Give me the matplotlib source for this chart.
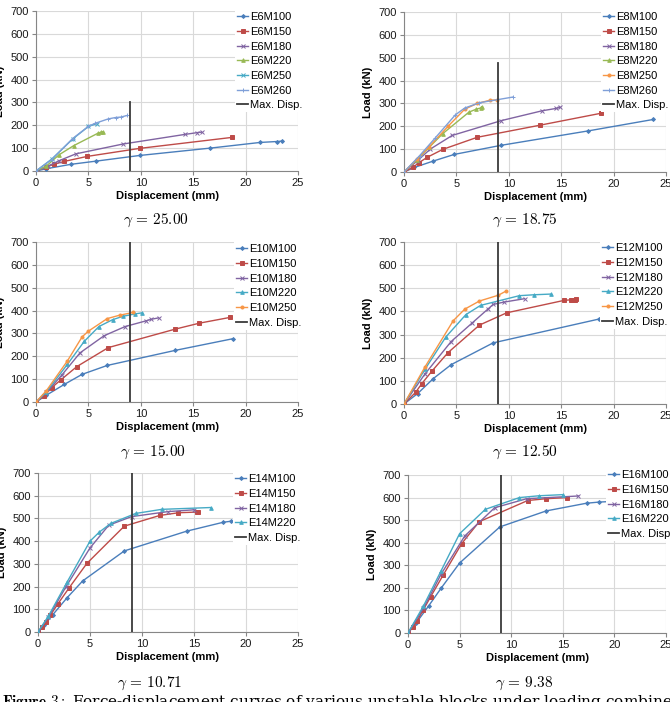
import matplotlib
matplotlib.use("Agg")
import matplotlib.pyplot as plt

# ---- data (displacement mm, load kN) ----------------------------------------
# gamma = 25.00
p1_names = ["E6M100", "E6M150", "E6M180", "E6M220", "E6M250", "E6M260"]
p1_x = [[0, 1.0, 3.3, 5.7, 9.9, 16.6, 21.4, 23.0, 23.5],
        [0, 1.0, 1.7, 2.7, 4.9, 9.9, 18.7],
        [0, 1.1, 2.2, 3.8, 8.3, 14.2, 15.4, 15.8],
        [0, 1.0, 2.2, 3.6, 5.9, 6.2, 6.4],
        [0, 1.5, 3.5, 5.0, 5.8],
        [0, 1.5, 3.5, 5.0, 5.6, 6.9, 7.6, 8.1, 8.7]]
p1_y = [[0, 10, 29, 43, 68, 100, 125, 129, 131],
        [0, 18, 29, 42, 64, 99, 147],
        [0, 20, 45, 75, 118, 160, 168, 170],
        [0, 22, 71, 111, 165, 170, 172],
        [0, 52, 140, 195, 207],
        [0, 50, 142, 195, 208, 228, 234, 236, 243]]

# gamma = 18.75
p2_names = ["E8M100", "E8M150", "E8M180", "E8M220", "E8M250", "E8M260"]
p2_x = [[0, 1.0, 2.8, 4.8, 9.3, 17.6, 23.8],
        [0, 0.9, 1.4, 2.2, 3.7, 7.0, 13.0, 18.8],
        [0, 1.3, 2.5, 4.6, 9.3, 13.2, 14.5, 14.9],
        [0, 1.2, 2.4, 3.7, 6.2, 6.9, 7.3, 7.4],
        [0, 1.2, 2.4, 4.2, 5.8, 7.0, 8.2, 8.9],
        [0, 1.5, 3.0, 4.9, 5.8, 7.2, 10.4]]
p2_y = [[0, 20, 48, 77, 117, 180, 230],
        [0, 22, 40, 64, 99, 152, 205, 257],
        [0, 50, 100, 160, 225, 268, 278, 283],
        [0, 52, 108, 168, 262, 275, 280, 285],
        [0, 55, 110, 200, 275, 300, 314, 315],
        [0, 72, 150, 250, 280, 303, 328]]

# gamma = 15.00
p3_names = ["E10M100", "E10M150", "E10M180", "E10M220", "E10M250"]
p3_x = [[0, 1.0, 2.7, 4.4, 6.8, 13.3, 18.8],
        [0, 0.8, 1.5, 2.4, 3.9, 6.9, 13.3, 15.6, 18.5],
        [0, 1.0, 2.5, 4.2, 6.5, 8.5, 10.5, 11.0, 11.7],
        [0, 1.0, 3.0, 4.6, 6.0, 7.3, 8.3, 9.4, 10.1],
        [0, 1.0, 3.0, 4.4, 5.0, 6.8, 8.0, 9.3]]
p3_y = [[0, 30, 77, 121, 160, 226, 277],
        [0, 28, 63, 98, 155, 238, 319, 345, 370],
        [0, 42, 120, 215, 290, 330, 355, 362, 368],
        [0, 45, 165, 265, 330, 360, 375, 385, 390],
        [0, 50, 180, 285, 310, 365, 380, 392]]

# gamma = 12.50
p4_names = ["E12M100", "E12M150", "E12M180", "E12M220", "E12M250"]
p4_x = [[0, 1.3, 2.8, 4.5, 8.5, 18.6],
        [0, 1.1, 1.7, 2.7, 4.2, 7.2, 9.8, 15.3, 15.9, 16.3, 16.4],
        [0, 2.0, 4.5, 6.5, 8.0, 8.5, 9.5, 11.5],
        [0, 2.0, 4.0, 5.9, 7.3, 11.0, 12.4, 14.0],
        [0, 2.0, 4.7, 5.8, 7.2, 9.0, 9.7]]
p4_y = [[0, 45, 110, 170, 264, 367],
        [0, 50, 88, 144, 222, 341, 394, 448, 450, 451, 452],
        [0, 130, 270, 350, 410, 430, 440, 455],
        [0, 150, 290, 386, 426, 468, 472, 475],
        [0, 160, 360, 410, 445, 470, 487]]

# gamma = 10.71
p5_names = ["E14M100", "E14M150", "E14M180", "E14M220"]
p5_x = [[0, 0.6, 1.4, 2.8, 4.3, 8.3, 14.3, 17.8, 18.6],
        [0, 0.4, 0.8, 1.2, 1.9, 3.0, 4.7, 8.3, 11.7, 13.5, 15.3, 15.4],
        [0, 1.0, 2.7, 5.0, 6.8, 9.0, 12.5, 15.0],
        [0, 1.0, 2.8, 5.0, 5.9, 7.0, 9.4, 11.9, 16.6]]
p5_y = [[0, 30, 75, 151, 225, 357, 444, 483, 488],
        [0, 20, 45, 75, 123, 195, 302, 466, 513, 525, 528, 530],
        [0, 65, 200, 370, 470, 508, 530, 538],
        [0, 70, 220, 400, 440, 478, 522, 540, 548]]

# gamma = 9.38
p6_names = ["E16M100", "E16M150", "E16M180", "E16M220"]
p6_x = [[0, 0.8, 2.0, 3.2, 5.0, 8.9, 13.4, 17.3, 18.5, 19.4],
        [0, 0.5, 0.9, 1.45, 2.2, 3.4, 5.2, 6.9, 11.6, 13.4, 15.4],
        [0, 1.5, 3.2, 5.5, 8.4, 11.5, 16.5],
        [0, 1.5, 3.2, 5.0, 7.5, 10.8, 12.7, 15.0]]
p6_y = [[0, 45, 120, 198, 310, 470, 541, 575, 580, 582],
        [0, 28, 55, 100, 161, 256, 396, 493, 587, 595, 600],
        [0, 110, 260, 430, 555, 595, 607],
        [0, 120, 275, 440, 548, 600, 608, 613]]

gammas = ["25.00", "18.75", "15.00", "12.50", "10.71", "9.38"]
max_disp_x = 9.0
max_disp_top = [300, 478, 700, 700, 700, 700]

# ---- styling -----------------------------------------------------------------
BLUE, RED, PURPLE = "#4a7ebb", "#be4b48", "#8064a2"
GREEN, TEAL, ORANGE, LBLUE = "#98b954", "#46aac5", "#f79646", "#7f9fd8"
STYLE = {"100": (BLUE, "D", 2.0), "150": (RED, "s", 2.6), "180": (PURPLE, "x", 3.0),
         "250": (TEAL, "x", 3.0), "260": (LBLUE, "+", 3.5)}

W, H = 670, 702
plt.rcParams["font.family"] = ["Liberation Sans", "DejaVu Sans"]
plt.rcParams["mathtext.fontset"] = "cm"
fig = plt.figure(figsize=(W / 100, H / 100), dpi=100)

# pixel boxes: x at 0, x at 25, y at 700, y at 0 ; legend anchor ; caption centre
panels = [
    ((36, 298, 11, 171), (235, 10), (156, 220), p1_names, p1_x, p1_y),
    ((404, 666, 12, 172), (601, 10), (525, 220), p2_names, p2_x, p2_y),
    ((36, 298, 242, 402), (234, 242), (153, 452), p3_names, p3_x, p3_y),
    ((404, 666, 242, 404), (600, 241), (525, 452), p4_names, p4_x, p4_y),
    ((38, 298, 473, 632), (233, 472), (150, 683), p5_names, p5_x, p5_y),
    ((408, 666, 475, 633), (606, 468), (524, 683), p6_names, p6_x, p6_y),
]

for i, (box, leg, cap, names, xs, ys) in enumerate(panels):
    x0, x25, y7, y0 = box
    ax = fig.add_axes([x0 / W, 1 - y0 / H, (x25 - x0) / W, (y0 - y7) / H])
    handles = []
    for name, x, y in zip(names, xs, ys):
        key = name[-3:]
        if key == "220":
            st = (GREEN, "^", 2.6) if i < 2 else (TEAL, "^", 2.6)
        elif key == "250" and i > 0:
            st = (ORANGE, "o", 2.2)
        else:
            st = STYLE[key]
        c, m, ms = st
        h, = ax.plot(x, y, "-", color=c, lw=1.0, marker=m, ms=ms, mew=0.7,
                     label=name, zorder=3)
        handles.append(h)
    h, = ax.plot([max_disp_x, max_disp_x], [0, max_disp_top[i]], "-",
                 color="#3a3a3a", lw=1.3, label="Max. Disp.", zorder=4)
    handles.append(h)

    ax.set_xlim(0, 25); ax.set_ylim(0, 700)
    ax.set_xticks(range(0, 26, 5)); ax.set_yticks(range(0, 701, 100))
    ax.grid(color="#d9d9d9", lw=0.8, zorder=0)
    ax.set_axisbelow(True)
    for s in ("top", "right"):
        ax.spines[s].set_visible(False)
    for s in ("left", "bottom"):
        ax.spines[s].set_color("#868686")
    ax.tick_params(length=3, color="#868686", labelsize=8, pad=2,
                   labelcolor="#1a1a1a")
    ax.set_xlabel("Displacement (mm)", fontsize=8, fontweight="bold", labelpad=2)
    ax.set_ylabel("Load (kN)", fontsize=8, fontweight="bold", labelpad=4)

    lg = ax.legend(handles=handles, loc="upper left",
                   bbox_to_anchor=(leg[0] / W, 1 - leg[1] / H),
                   bbox_transform=fig.transFigure, fontsize=8, numpoints=1,
                   handlelength=1.0, handletextpad=0.15, labelspacing=0.42,
                   borderpad=0.2, borderaxespad=0, frameon=True,
                   facecolor="white", edgecolor="none", framealpha=1,
                   fancybox=False)
    lg.set_zorder(10)

    fig.text(cap[0] / W, 1 - cap[1] / H, r"$\gamma\, =\, %s$" % gammas[i],
             ha="center", va="center", fontsize=11)

fig.text(2 / W, 0.0, r"$\mathbf{Figure\ 3:}$ Force-displacement curves of various unstable "
         "blocks under loading combined with 50%. Note that the load is t",
         ha="left", va="center", fontsize=11, family="DejaVu Serif")

fig.savefig("out.png", dpi=100)
